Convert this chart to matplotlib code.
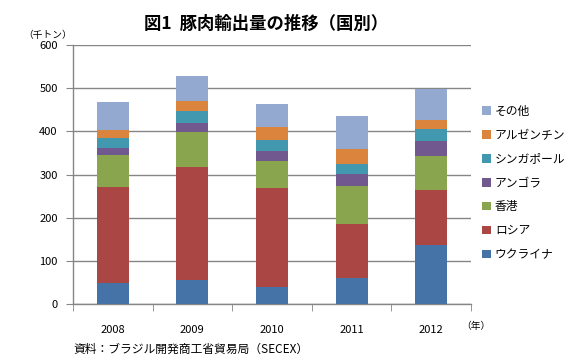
import matplotlib
matplotlib.use("Agg")
import matplotlib.pyplot as plt
from matplotlib.patches import Patch
import numpy as np

plt.rcParams['font.family'] = ['Noto Sans CJK JP', 'DejaVu Sans']

years = ['2008', '2009', '2010', '2011', '2012']
series_names = ['ウクライナ', 'ロシア', '香港', 'アンゴラ', 'シンガポール', 'アルゼンチン', 'その他']
ukraine = [49, 56, 39, 61, 137]
russia = [221, 262, 230, 125, 127]
hongkong = [76, 81, 63, 88, 79]
angola = [16, 21, 23, 28, 35]
singapore = [23, 28, 26, 23, 28]
argentina = [19, 23, 28, 35, 21]
others = [65, 58, 55, 76, 72]

series = [ukraine, russia, hongkong, angola, singapore, argentina, others]
colors = ['#4572A7', '#AA4643', '#89A54E', '#71588F', '#4198AF', '#DB843D', '#93A9CF']

fig = plt.figure(figsize=(5.84, 3.64), dpi=100)
ax = fig.add_axes([0.125, 0.1648, 0.6815, 0.7116])

x = np.arange(len(years))
bottom = np.zeros(len(years))
for vals, c in zip(series, colors):
    ax.bar(x, vals, width=0.4, bottom=bottom, color=c, zorder=3)
    bottom += np.array(vals)

grid_c = '#868686'
ax.set_ylim(0, 600)
ax.set_xlim(-0.5, 4.5)
ax.set_yticks(range(0, 601, 100))
ax.yaxis.grid(True, color=grid_c, linewidth=1.0, zorder=0)
for s in ['top', 'right']:
    ax.spines[s].set_visible(False)
for s in ['left', 'bottom']:
    ax.spines[s].set_color(grid_c)
    ax.spines[s].set_linewidth(1.0)
ax.tick_params(axis='y', direction='out', length=5, color=grid_c, labelsize=8, pad=6)
ax.set_xticks(x)
ax.set_xticklabels(years, fontsize=8)
ax.tick_params(axis='x', which='major', length=0, pad=15)
ax.set_xticks(np.arange(-0.5, 5, 1.0), minor=True)
ax.tick_params(axis='x', which='minor', direction='out', length=5, color=grid_c)

handles = [Patch(facecolor=c, edgecolor='none') for c in colors]
leg = fig.legend(handles[::-1], series_names[::-1], loc='upper left',
                 bbox_to_anchor=(0.818, 0.725), frameon=False, fontsize=8.5,
                 handlelength=0.75, handleheight=0.75, handletextpad=0.3,
                 labelspacing=0.92, borderaxespad=0)

fig.text(0.455, 0.935, '図1  豚肉輸出量の推移（国別）', ha='center', va='center',
         fontsize=12.5, fontweight='bold')
fig.text(0.04, 0.905, '（千トン）', ha='left', va='center', fontsize=7)
fig.text(0.79, 0.105, '（年）', ha='left', va='center', fontsize=7)
fig.text(0.125, 0.04, '資料：ブラジル開発商工省貿易局（SECEX）', ha='left', va='center', fontsize=8.5)

fig.savefig('out.png', dpi=100)
